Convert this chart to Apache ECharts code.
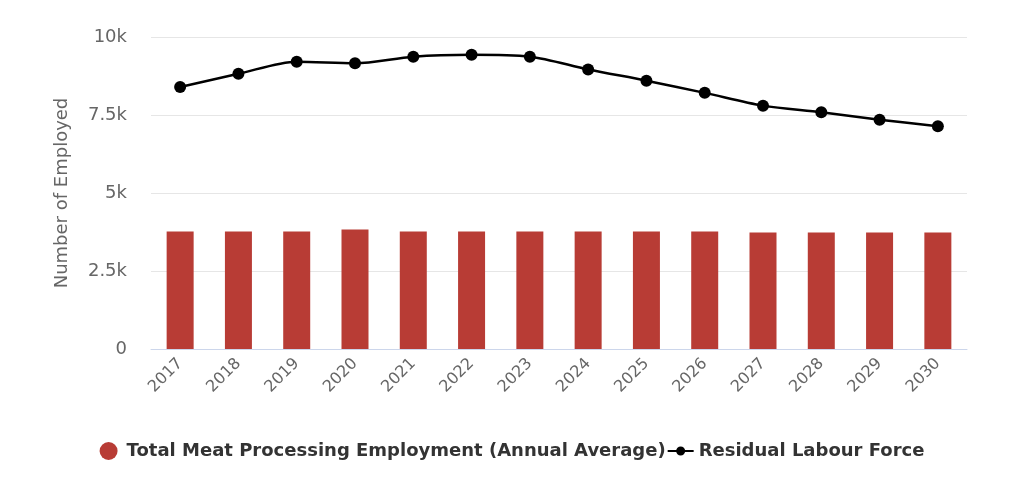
<!DOCTYPE html>
<html>
<head>
<meta charset="utf-8">
<script src="https://cdn.jsdelivr.net/npm/echarts@6/dist/echarts.min.js"></script>
<style>html,body{margin:0;padding:0;background:#fff}#c{width:1024px;height:492px}</style>
</head>
<body>
<div id="c"></div>
<script>
var years = ['2017','2018','2019','2020','2021','2022','2023','2024','2025','2026','2027','2028','2029','2030'];
var meatEmployment = [3770,3770,3770,3830,3770,3770,3770,3770,3770,3770,3730,3730,3730,3730];
var residualLabour = [8400,8820,9210,9160,9370,9430,9370,8960,8600,8210,7800,7590,7350,7140];
var yTicks = [0,2500,5000,7500,10000];
var yTickLabels = ['0','2.5k','5k','7.5k','10k'];

var chart = echarts.init(document.getElementById('c'));
var font = '"DejaVu Sans", sans-serif';
chart.setOption({
  animation:false,
  textStyle:{fontFamily:font},
  grid:{left:151,right:57,top:37,bottom:143},
  legend:{
    bottom:27, left:'center', itemGap:2,
    itemWidth:26, itemHeight:18,
    textStyle:{fontSize:18,fontWeight:'bold',color:'#333',fontFamily:font},
    data:[
      {name:'Total Meat Processing Employment (Annual Average)',icon:'circle'},
      {name:'Residual Labour Force',icon:'path://M0,8 L9,8 L9,10 L0,10 Z M17,8 L26,8 L26,10 L17,10 Z M8.5,9 A4.5,4.5 0 1,1 17.5,9 A4.5,4.5 0 1,1 8.5,9 Z'}
    ]
  },
  xAxis:{
    type:'category', data:years,
    axisLine:{lineStyle:{color:'#ccd6eb'}},
    axisTick:{show:false},
    axisLabel:{rotate:45,fontSize:16,color:'#666',margin:12,fontFamily:font}
  },
  yAxis:{
    type:'value', min:0, max:10000, interval:2500,
    name:'Number of Employed', nameLocation:'middle', nameGap:80,
    nameTextStyle:{fontSize:18,color:'#666',fontFamily:font},
    splitLine:{lineStyle:{color:'#e6e6e6'}},
    axisLine:{show:false}, axisTick:{show:false},
    axisLabel:{fontSize:18,color:'#666',margin:24,fontFamily:font,
      formatter:function(v){var i=yTicks.indexOf(v);return i>=0?yTickLabels[i]:'';}}
  },
  series:[
    {name:'Total Meat Processing Employment (Annual Average)',type:'bar',data:meatEmployment,
     barWidth:27,itemStyle:{color:'#b83c35'}},
    {name:'Residual Labour Force',type:'line',data:residualLabour,smooth:0.3,
     symbol:'circle',symbolSize:12,lineStyle:{color:'#000',width:2.5},itemStyle:{color:'#000'}}
  ]
});
</script>
</body>
</html>
